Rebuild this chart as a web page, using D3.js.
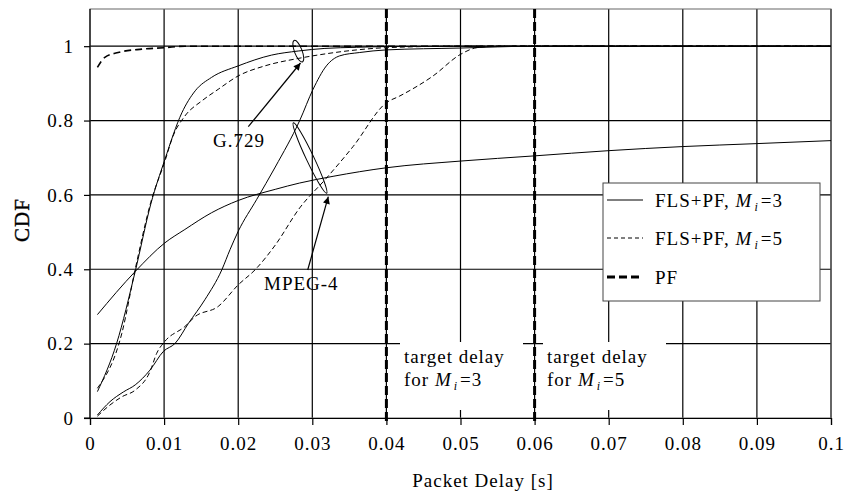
<!DOCTYPE html>
<html>
<head>
<meta charset="utf-8">
<script src="https://cdn.jsdelivr.net/npm/d3@7/dist/d3.min.js"></script>
<style>
  body { margin: 0; background: #fff; }
  svg { font-family: "Liberation Serif", "Times New Roman", serif; }
  text { letter-spacing: 1px; }
</style>
</head>
<body>
<div id="chart"></div>
<script>
// x ticks (s) and y ticks (CDF)
var xTicks = [0, 0.01, 0.02, 0.03, 0.04, 0.05, 0.06, 0.07, 0.08, 0.09, 0.1];
var xTickLabels = ["0", "0.01", "0.02", "0.03", "0.04", "0.05", "0.06", "0.07", "0.08", "0.09", "0.1"];
var yTicks = [0, 0.2, 0.4, 0.6, 0.8, 1];
var yTickLabels = ["0", "0.2", "0.4", "0.6", "0.8", "1"];

var targetDelays = [0.04, 0.06];

// G.729, FLS+PF Mi=3
var g729Fls3X = [0.001, 0.0036, 0.0061, 0.0082, 0.0101, 0.0124, 0.0142, 0.0164, 0.020, 0.0245, 0.0281, 0.0317, 0.036, 0.040, 0.050, 0.1];
var g729Fls3Y = [0.071, 0.201, 0.394, 0.575, 0.695, 0.821, 0.880, 0.916, 0.947, 0.976, 0.987, 0.994, 0.997, 0.999, 1, 1];
// G.729, FLS+PF Mi=5
var g729Fls5X = [0.001, 0.0043, 0.0061, 0.0082, 0.0101, 0.0112, 0.0128, 0.0151, 0.0173, 0.020, 0.0236, 0.0281, 0.032, 0.036, 0.040, 0.050, 0.1];
var g729Fls5Y = [0.080, 0.228, 0.400, 0.580, 0.690, 0.758, 0.812, 0.853, 0.884, 0.920, 0.947, 0.967, 0.980, 0.990, 0.996, 1, 1];
// G.729, PF
var g729PfX = [0.001, 0.002, 0.0038, 0.007, 0.0101, 0.0128, 0.1];
var g729PfY = [0.943, 0.970, 0.983, 0.992, 0.996, 1, 1];
// MPEG-4, FLS+PF Mi=3
var mpegFls3X = [0.001, 0.0027, 0.0045, 0.0061, 0.0081, 0.0099, 0.0115, 0.0133, 0.0155, 0.0178, 0.0189, 0.020, 0.0225, 0.025, 0.0283, 0.0301, 0.0319, 0.0337, 0.0364, 0.040, 0.050, 0.060, 0.1];
var mpegFls3Y = [0.008, 0.044, 0.070, 0.089, 0.129, 0.179, 0.201, 0.255, 0.318, 0.399, 0.453, 0.502, 0.588, 0.675, 0.800, 0.884, 0.947, 0.974, 0.983, 0.990, 0.995, 1, 1];
// MPEG-4, FLS+PF Mi=5
var mpegFls5X = [0.001, 0.0027, 0.0043, 0.0061, 0.0081, 0.009, 0.0101, 0.0128, 0.0142, 0.0173, 0.020, 0.0223, 0.025, 0.0283, 0.0319, 0.0355, 0.040, 0.0418, 0.0463, 0.050, 0.0522, 0.055, 0.1];
var mpegFls5Y = [0.005, 0.035, 0.057, 0.075, 0.125, 0.174, 0.206, 0.246, 0.273, 0.300, 0.358, 0.399, 0.465, 0.565, 0.645, 0.730, 0.848, 0.866, 0.920, 0.978, 0.996, 1, 1];
// MPEG-4, PF
var mpegPfX = [0.001, 0.0061, 0.0101, 0.0128, 0.0164, 0.020, 0.025, 0.0283, 0.0328, 0.040, 0.050, 0.060, 0.070, 0.080, 0.090, 0.1];
var mpegPfY = [0.278, 0.394, 0.471, 0.507, 0.552, 0.585, 0.615, 0.632, 0.650, 0.673, 0.691, 0.705, 0.719, 0.730, 0.738, 0.746];

var legendLabels = ["=3", "=5", "PF"];

var W = 846, H = 492;
var margin = {top: 9, right: 15, bottom: 74, left: 90},
    width = W - margin.left - margin.right,
    height = H - margin.top - margin.bottom;

var svg = d3.select("#chart").append("svg")
    .attr("width", W)
    .attr("height", H);

var defs = svg.append("defs");
defs.append("marker")
    .attr("id", "arrow")
    .attr("viewBox", "0 0 10 10")
    .attr("refX", 10).attr("refY", 5)
    .attr("markerWidth", 9).attr("markerHeight", 7)
    .attr("markerUnits", "userSpaceOnUse")
    .attr("orient", "auto")
  .append("path")
    .attr("d", "M0,0 L10,5 L0,10 z")
    .attr("fill", "#000");

var g = svg.append("g").attr("transform", "translate(" + margin.left + "," + margin.top + ")");

var x = d3.scaleLinear().domain([0, 0.1]).range([0, width]);
var y = d3.scaleLinear().domain([0, 1.1]).range([height, 0]);

// grid
g.selectAll(".vgrid").data(xTicks.slice(1))
  .enter().append("line")
    .attr("x1", function(d){ return x(d); }).attr("x2", function(d){ return x(d); })
    .attr("y1", 0).attr("y2", height)
    .attr("stroke", "#000").attr("stroke-width", 1.2);
g.selectAll(".hgrid").data(yTicks.slice(1))
  .enter().append("line")
    .attr("x1", 0).attr("x2", width)
    .attr("y1", function(d){ return y(d); }).attr("y2", function(d){ return y(d); })
    .attr("stroke", "#000").attr("stroke-width", 1.2);
g.append("rect")
    .attr("x", 0).attr("y", 0).attr("width", width).attr("height", height)
    .attr("fill", "none").attr("stroke", "#666").attr("stroke-width", 1);

// axes
var xAxis = d3.axisBottom(x).tickValues(xTicks).tickSize(7).tickPadding(12)
    .tickFormat(function(d, i){ return xTickLabels[i]; });
var gx = g.append("g").attr("transform", "translate(0," + height + ")").call(xAxis);
var yAxis = d3.axisLeft(y).tickValues(yTicks).tickSize(6).tickPadding(10)
    .tickFormat(function(d, i){ return yTickLabels[i]; });
var gy = g.append("g").call(yAxis);
[gx, gy].forEach(function(a){
  a.attr("font-family", null);
  a.select(".domain").attr("stroke", "#000").attr("stroke-width", 1.2);
  a.selectAll(".tick line").attr("stroke", "#000").attr("stroke-width", 1.2);
  a.selectAll(".tick text").attr("font-size", 19).attr("fill", "#000");
});
gy.select(".domain").attr("d", "M-6," + y(0) + "H0V" + y(1.1));

// target delay vertical lines
g.selectAll(".target").data(targetDelays)
  .enter().append("line")
    .attr("x1", function(d){ return x(d); }).attr("x2", function(d){ return x(d); })
    .attr("y1", 0).attr("y2", height + 7)
    .attr("stroke", "#000").attr("stroke-width", 3)
    .attr("stroke-dasharray", "9,4");

// curves
function zip(xs, ys){ return xs.map(function(v, i){ return [v, ys[i]]; }); }
var line = d3.line()
    .x(function(d){ return x(d[0]); })
    .y(function(d){ return y(d[1]); })
    .curve(d3.curveMonotoneX);

var curves = [
  {pts: zip(mpegPfX, mpegPfY), w: 1, dash: null},
  {pts: zip(g729PfX, g729PfY), w: 1.6, dash: "7,4"},
  {pts: zip(g729Fls3X, g729Fls3Y), w: 1, dash: null},
  {pts: zip(g729Fls5X, g729Fls5Y), w: 1, dash: "5,3"},
  {pts: zip(mpegFls3X, mpegFls3Y), w: 1, dash: null},
  {pts: zip(mpegFls5X, mpegFls5Y), w: 1, dash: "5,3"}
];
g.selectAll(".curve").data(curves)
  .enter().append("path")
    .attr("d", function(d){ return line(d.pts); })
    .attr("fill", "none")
    .attr("stroke", "#000")
    .attr("stroke-width", function(d){ return d.w; })
    .attr("stroke-dasharray", function(d){ return d.dash; });

// annotations: ellipses and arrows
function ellipse(cx, cy, rx, ry, ang){
  svg.append("ellipse")
    .attr("transform", "translate(" + cx + "," + cy + ") rotate(" + ang + ")")
    .attr("rx", rx).attr("ry", ry)
    .attr("fill", "none").attr("stroke", "#000").attr("stroke-width", 1);
}
ellipse(298.3, 51.2, 3.8, 11.5, -21);
ellipse(310, 158, 3.8, 39, -25.3);

svg.append("line").attr("x1", 248.3).attr("y1", 126.7).attr("x2", 300.5).attr("y2", 63)
  .attr("stroke", "#000").attr("stroke-width", 1.2).attr("marker-end", "url(#arrow)");
svg.append("line").attr("x1", 307.7).attr("y1", 270).attr("x2", 328.3).attr("y2", 196.7)
  .attr("stroke", "#000").attr("stroke-width", 1.2).attr("marker-end", "url(#arrow)");

svg.append("text").attr("x", 213).attr("y", 147).attr("font-size", 19).text("G.729");
svg.append("text").attr("x", 264).attr("y", 290).attr("font-size", 19).text("MPEG-4");

// target delay labels with white boxes
function subLabel(t, xx, yy, pre, post){
  var tx = t.append("text").attr("x", xx).attr("y", yy).attr("font-size", 19);
  tx.append("tspan").text(pre);
  tx.append("tspan").attr("font-style", "italic").text("M");
  tx.append("tspan").attr("font-style", "italic").attr("font-size", 12).attr("dy", 4).attr("dx", 2).text("i");
  tx.append("tspan").attr("dy", -4).attr("dx", 2).text(post);
  return tx;
}
var boxes = [[400, "=3"], [543, "=5"]];
boxes.forEach(function(b){
  svg.append("rect").attr("x", b[0]).attr("y", 342).attr("width", 123).attr("height", 68)
    .attr("fill", "#fff");
  svg.append("text").attr("x", b[0] + 4).attr("y", 363).attr("font-size", 19).text("target delay");
  subLabel(svg, b[0] + 4, 386, "for ", b[1]);
});

// legend
var lg = svg.append("g").attr("transform", "translate(603,183)");
lg.append("rect").attr("width", 217).attr("height", 118)
  .attr("fill", "#fff").attr("stroke", "#444").attr("stroke-width", 1);
var legendStyles = [[1, null], [1, "4,3"], [3, "8,4"]];
var legendY = [17, 55, 94];
legendLabels.forEach(function(lab, i){
  lg.append("line").attr("x1", 4).attr("x2", 40).attr("y1", legendY[i]).attr("y2", legendY[i])
    .attr("stroke", "#000").attr("stroke-width", legendStyles[i][0])
    .attr("stroke-dasharray", legendStyles[i][1]);
  if (i < 2) {
    subLabel(lg, 52, legendY[i] + 7, "FLS+PF, ", lab);
  } else {
    lg.append("text").attr("x", 52).attr("y", legendY[i] + 7).attr("font-size", 19).text(lab);
  }
});

// axis titles
svg.append("text")
  .attr("x", 483).attr("y", 487)
  .attr("text-anchor", "middle").attr("font-size", 19)
  .text("Packet Delay [s]");
svg.append("text")
  .attr("transform", "translate(29,220) rotate(-90)")
  .attr("text-anchor", "middle").attr("font-size", 21)
  .attr("stroke", "#000").attr("stroke-width", 0.4)
  .text("CDF");
</script>
</body>
</html>
